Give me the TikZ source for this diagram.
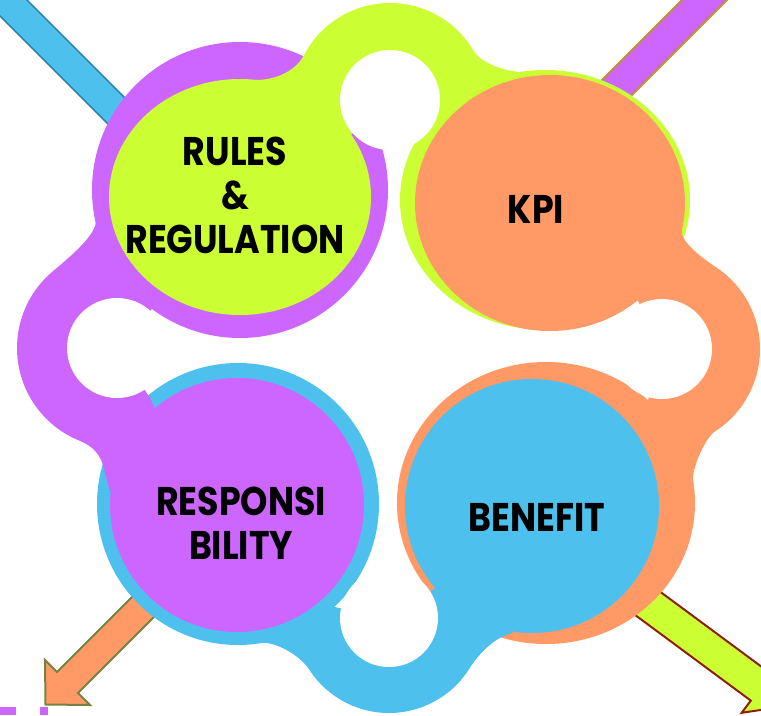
\documentclass[tikz,border=0pt]{standalone}
\usepackage{fontspec}
\newfontfamily\wordfont{Poppins}[FakeStretch=0.87]
\usetikzlibrary{calc}
\definecolor{color1}{RGB}{204,102,255}
\definecolor{color2}{RGB}{204,255,51}
\definecolor{color3}{RGB}{255,153,102}
\definecolor{color4}{RGB}{77,192,238}
\definecolor{color5}{RGB}{49,133,168}
\definecolor{color6}{RGB}{190,148,48}
\definecolor{color7}{RGB}{118,130,62}
\definecolor{color8}{RGB}{140,32,12}
\tikzset{word/.style={font=\wordfont\fontsize{30}{33}\selectfont\bfseries, align=center, inner sep=0pt}}

\begin{document}
\begin{tikzpicture}[x=0.75pt,y=-0.75pt,line join=miter]
\useasboundingbox (0,0) rectangle (761,715);
\clip (0,0) rectangle (761,715);

\coordinate (ht) at (390,100);
\coordinate (hl) at (117,348);
\coordinate (hb) at (389,618);
\coordinate (hr) at (662,349);

% arrows behind the rings
\filldraw[color4, draw=color5, line width=1.1pt] (-20,-47) -- (170,143) -- (150,166) -- (-40,-24) -- cycle;
\filldraw[color1, draw=color6, line width=1.5pt] (690,-8) -- (560,122) -- (600,127) -- (740,-13) -- cycle;
\filldraw[color3, draw=color7, line width=1.5pt] (289.5,439.5) -- (57,672) -- (45,660) -- (45.5,704.5) -- (90,705) -- (78,693) -- (310.5,460.5) -- cycle;
\filldraw[color2, draw=color8, line width=1.5pt] (513.5,483.2) -- (770.8,673.6) -- (779.8,661.3) -- (786.5,706.1) -- (741.7,712.8) -- (750.8,700.6) -- (493.5,510.2) -- cycle;
\fill[color1] (0,707) rectangle (16,715);
\fill[color1] (40,707) rectangle (48,715);

% outer rings
\fill[color1] (240,190) circle[radius=148];
\fill[color2] (545,200) ellipse[x radius=145, y radius=130];
\fill[color4] (238,504) circle[radius=141];
\fill[color3] (546,503) ellipse[x radius=149, y radius=141];

% necks from one ring into the next disc
\fill[color2] (ht) -- (345,140) -- (255,80) .. controls (280,80) and (297,68) .. ($(ht)+(207:97)$) arc[start angle=207, end angle=330, radius=97] .. controls (480,62) and (505,72) .. (522,72) -- (470,120) -- cycle;
\fill[color1] (hl) -- (160,300) -- (96,222) .. controls (94,238) and (66,260) .. ($(hl)+(230:100)$) arc[start angle=230, end angle=112, radius=100] .. controls (93,446) and (100,455) .. (103,465) -- (110,492) -- (165,430) -- (150,398) -- cycle;
\fill[color4] (hb) -- (440,585) -- (513,633) .. controls (495,636) and (477,656) .. ($(hb)+(32:95)$) arc[start angle=32, end angle=148, radius=95] .. controls (300,656) and (276,641) .. (260,643) -- (300,600) -- cycle;
\fill[color3] (hr) -- (635,295) -- (682,230) .. controls (679,242) and (708,262) .. ($(hr)+(-56:98)$) arc[start angle=-56, end angle=58, radius=98] .. controls (706,438) and (691,468) .. (693,483) -- (640,430) -- cycle;

\foreach \h/\r in {ht/50, hl/50, hb/49, hr/50}
  \fill[white] (\h) circle[radius=\r];

% inner discs
\fill[color2] (240,197) ellipse[x radius=131, y radius=118];
\fill[color3] (550,203) ellipse[x radius=135, y radius=128];
\fill[color1] (237,505) circle[radius=127];
\fill[color4] (532,506) circle[radius=127];

\node[word] (rules) at (235,195) {RULES\\\&\\REGULATION};
\node[word] (kpi) at (536,209) {KPI};
\node[word] (resp) at (241,523) {RESPONSI\\BILITY};
\node[word] (benefit) at (537,517) {BENEFIT};
\end{tikzpicture}
\end{document}
